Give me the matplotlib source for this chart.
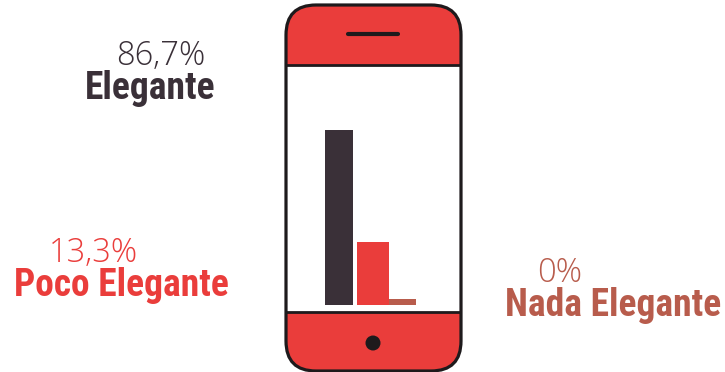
import numpy as np
import matplotlib
matplotlib.use('Agg')
import matplotlib.pyplot as plt
from matplotlib.patches import FancyBboxPatch, Rectangle, Circle

# Survey results
categories = ['Elegante', 'Poco Elegante', 'Nada Elegante']
values = [86.7, 13.3, 0]
value_labels = ['86,7%', '13,3%', '0%']

RED = '#EA3D3B'
DARK = '#3A3038'
BROWN = '#B85C4C'
INK = '#1E1A1C'
bar_colors = [DARK, RED, BROWN]
text_colors = [DARK, RED, BROWN]

W, H = 725, 372
fig = plt.figure(figsize=(W / 100, H / 100), dpi=100)

# Full-figure axes in pixel units for the phone and the labels
bg = fig.add_axes([0, 0, 1, 1])
bg.set_xlim(0, W)
bg.set_ylim(H, 0)
bg.axis('off')

# Phone body
body = FancyBboxPatch((316, 35), 115, 306, boxstyle='round,pad=30,rounding_size=30',
                      fc='white', ec='none', zorder=1)
bg.add_patch(body)
top = Rectangle((286, 5), 175, 59.5, fc=RED, ec='none', zorder=2)
bottom = Rectangle((286, 312), 175, 59, fc=RED, ec='none', zorder=2)
for p in (top, bottom):
    bg.add_patch(p)
    p.set_clip_path(body)
outline = FancyBboxPatch((316, 35), 115, 306, boxstyle='round,pad=30,rounding_size=30',
                         fc='none', ec=INK, lw=2.3, zorder=4)
bg.add_patch(outline)
bg.plot([286, 461], [64.5, 64.5], color=INK, lw=2.0, zorder=3, solid_capstyle='butt')
bg.plot([286, 461], [312, 312], color=INK, lw=2.0, zorder=3, solid_capstyle='butt')
bg.plot([348, 398], [34, 34], color=INK, lw=3.0, zorder=3, solid_capstyle='round')
bg.add_patch(Circle((373, 343), 7.5, fc=INK, ec='none', zorder=3))

# Bars inside the screen, on a compressed power scale
power, offset = 0.55, 0.19
bars = fig.add_axes([325 / W, 1 - 305 / H, (416 - 325) / W, (305 - 130) / H])
bars.set_yscale('function', functions=(
    lambda v: np.maximum(np.asarray(v) + offset, 0) ** power,
    lambda v: np.maximum(np.asarray(v), 0) ** (1 / power) - offset))
bar_left = [0, 32, 64]
bar_width = [28, 32, 27]
for left, width, v, c in zip(bar_left, bar_width, values, bar_colors):
    bars.bar(left, v + offset, width=width, bottom=-offset, align='edge', color=c)
bars.set_xlim(0, 91)
bars.set_ylim(-offset, values[0])
bars.axis('off')

# Labels
name_font = dict(family='Roboto Condensed', fontweight='bold', fontsize=27)
value_font = dict(family='Open Sans', fontweight=300, fontsize=23.5)
name_pos = [(150, 99), (121, 296.5), (613, 315.5)]
value_pos = [(161, 65), (93, 262), (560, 282)]
for name, label, np_, vp, c in zip(categories, value_labels, name_pos, value_pos, text_colors):
    bg.text(np_[0], np_[1], name, color=c, ha='center', va='baseline', **name_font)
    bg.text(vp[0], vp[1], label, color=c, ha='center', va='baseline', **value_font)

fig.savefig('out.png', dpi=100, facecolor='white')
